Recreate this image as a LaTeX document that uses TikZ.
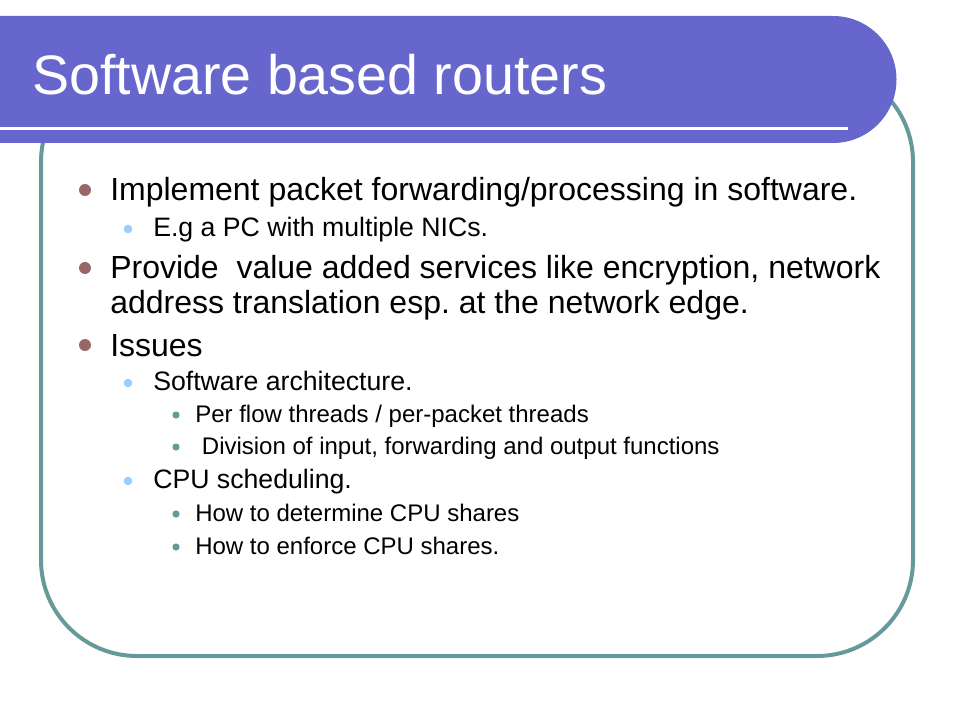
\documentclass[tikz,border=0pt]{standalone}
\usepackage{fontspec}
\setmainfont{Liberation Sans}
\frenchspacing
\definecolor{titlebar}{HTML}{6666CC}
\definecolor{frameline}{HTML}{669999}
\definecolor{dotone}{HTML}{996666}
\definecolor{dottwo}{HTML}{99CCFF}
\definecolor{dotthree}{HTML}{669999}
\tikzset{
  levelone/.style={anchor=base west,inner sep=0pt,font=\fontsize{24}{28}\selectfont},
  leveltwo/.style={anchor=base west,inner sep=0pt,font=\fontsize{20}{24}\selectfont},
  levelthree/.style={anchor=base west,inner sep=0pt,font=\fontsize{18}{21}\selectfont}
}
\begin{document}
\begin{tikzpicture}[x=0.75pt,y=-0.75pt]
	\useasboundingbox (0,0) rectangle (960,720);
	% frame
	\draw[frameline,line width=3pt,rounded corners=72] (41,66) rectangle (913,656);
	% title bar
	\fill[titlebar] (0,16) -- (833,16) arc[start angle=-90,end angle=90,radius=63.5] -- (0,143) -- cycle;
	\draw[white,line width=2.4pt] (0,128.5) -- (848,128.5);
	\node [anchor=base west,inner sep=0pt,text=white,font=\fontsize{41.7}{50}\selectfont] (title) at (32,95) {Software based routers};
	% bullets
	\foreach \y in {190,268,345} \fill[dotone] (85,\y) circle (6);
	\foreach \y in {229,383,481} \fill[dottwo] (128,\y) circle (4.3);
	\foreach \y in {415,447,514,547} \fill[dotthree] (176,\y) circle (3.6);
	% text
	\node [levelone] (implement) at (110,201) {Implement packet forwarding/processing in software.};
	\node [leveltwo] (nics) at (153,237) {E.g a PC with multiple NICs.};
	\node [levelone] (provide) at (110,279) {Provide\ \ value added services like encryption, network};
	\node [levelone] (provideb) at (110,313) {address translation esp. at the network edge.};
	\node [levelone] (issues) at (110,356) {Issues};
	\node [leveltwo] (swarch) at (153,390) {Software architecture.};
	\node [levelthree] (perflow) at (195,422) {Per flow threads / per-packet threads};
	\node [levelthree] (division) at (195,454) {\ Division of input, forwarding and output functions};
	\node [leveltwo] (cpusched) at (153,488) {CPU scheduling.};
	\node [levelthree] (determine) at (195,521) {How to determine CPU shares};
	\node [levelthree] (enforce) at (195,554) {How to enforce CPU shares.};
\end{tikzpicture}
\end{document}
